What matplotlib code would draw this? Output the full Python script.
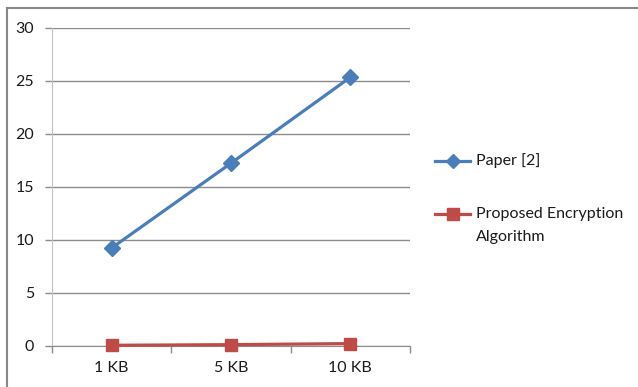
import matplotlib
matplotlib.use("Agg")
import matplotlib.pyplot as plt
from matplotlib.lines import Line2D

# file sizes and timings
sizes = ['1 KB', '5 KB', '10 KB']
paper2 = [9.2, 17.2, 25.3]
proposed = [0.02, 0.08, 0.18]
yticks = [0, 5, 10, 15, 20, 25, 30]

blue = '#4a7ebb'
red = '#be4b48'
grid_col = '#8c8c8c'
text_col = '#1a1a1a'
fs = 11.5

plt.rcParams['font.family'] = ['Lato', 'DejaVu Sans']

fig = plt.figure(figsize=(6.38, 3.87), dpi=100)
ax = fig.add_axes([52 / 638, 1 - 345.5 / 387, (410 - 52) / 638, (345.5 - 27.5) / 387])

x = list(range(len(sizes)))
ax.plot(x, paper2, color=blue, lw=2.3, marker='D', ms=8, zorder=3)
ax.plot(x, proposed, color=red, lw=2.3, marker='s', ms=9, zorder=3, clip_on=False)

ax.set_xlim(-0.5, len(sizes) - 0.5)
ax.set_ylim(0, 30)
ax.set_yticks(yticks)
ax.yaxis.grid(True, color=grid_col, lw=1)
ax.set_axisbelow(True)

# category boundaries get the tick marks, centres get the labels
ax.set_xticks([i - 0.5 for i in range(len(sizes) + 1)])
ax.set_xticklabels([])
ax.set_xticks(x, minor=True)
ax.set_xticklabels(sizes, minor=True)
ax.tick_params(axis='x', which='major', length=5, color=grid_col, width=1)
ax.tick_params(axis='x', which='minor', length=0, pad=11, labelsize=fs, labelcolor=text_col)
ax.tick_params(axis='y', length=5, color=grid_col, width=1, pad=8, labelsize=fs, labelcolor=text_col)

for s in ['top', 'right']:
    ax.spines[s].set_visible(False)
ax.spines['left'].set_color('#c4c4c4')
ax.spines['bottom'].set_color(grid_col)

# legend drawn at figure level
def fy(py):
    return 1 - py / 387

fig.text(476 / 638, fy(161), 'Paper [2]', fontsize=fs, color=text_col, va='center')
fig.add_artist(Line2D([435 / 638, 470 / 638], [fy(161)] * 2, color=blue, lw=2.3))
fig.add_artist(Line2D([452.5 / 638], [fy(161)], color=blue, marker='D', ms=7))
fig.text(476 / 638, fy(214), 'Proposed Encryption', fontsize=fs, color=text_col, va='center')
fig.text(476 / 638, fy(237), 'Algorithm', fontsize=fs, color=text_col, va='center')
fig.add_artist(Line2D([435 / 638, 470 / 638], [fy(214)] * 2, color=red, lw=2.3))
fig.add_artist(Line2D([452.5 / 638], [fy(214)], color=red, marker='s', ms=8))

# chart frame
fig.add_artist(Line2D([6.5 / 638, 6.5 / 638], [0, fy(7.5)], color='#888888', lw=1.5))
fig.add_artist(Line2D([6.5 / 638, 1], [fy(7.5)] * 2, color='#888888', lw=1.5))

fig.savefig('out.png', dpi=100)
